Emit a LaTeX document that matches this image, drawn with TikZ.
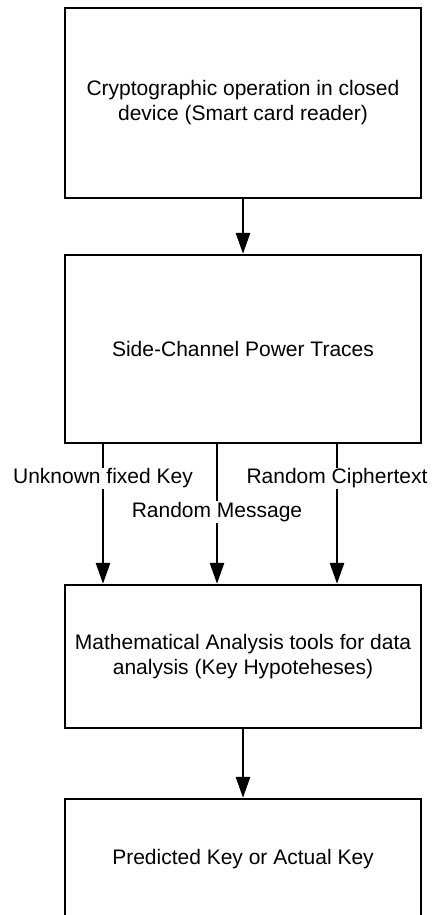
\documentclass[tikz,border=0pt]{standalone}
\usepackage{fontspec}
\setmainfont{Liberation Sans}
\usepackage{xcolor}
\usetikzlibrary{arrows.meta,positioning}
\tikzset{
  box/.style={
    draw=black,fill=white,line width=2.3pt,
    minimum width=356pt,align=center,
    font=\fontsize{21}{25}\selectfont
  },
  arrow/.style={-{Triangle[length=21pt,width=14pt]},draw=black,line width=2.6pt},
  edgelabel/.style={fill=white,inner sep=1pt,font=\fontsize{21}{25}\selectfont}
}
\begin{document}
\begin{tikzpicture}[x=1pt,y=1pt,node distance=54.7pt]
\useasboundingbox (0,0) rectangle (432,-915);
\node[box,minimum height=190pt] (crypto) at (243,-103)
{Cryptographic operation in closed\\device (Smart card reader)};
\node[box,minimum height=188pt,below=of crypto] (traces)
{Side-Channel Power Traces};
\node[box,minimum height=143pt,below=139.7pt of traces] (analysis)
{Mathematical Analysis tools for data\\analysis (Key Hypoteheses)};
\node[box,minimum height=120pt,below=68.7pt of analysis] (keyout)
{Predicted Key or Actual Key};

\draw[arrow] (crypto)--(traces);
\draw[arrow] ([xshift=-140pt]traces.south)--([xshift=-140pt]analysis.north)
  node[edgelabel,pos=.246] {Unknown fixed Key};
\draw[arrow] ([xshift=-26pt]traces.south)--([xshift=-26pt]analysis.north)
  node[edgelabel,pos=.486] {Random Message};
\draw[arrow] ([xshift=94pt]traces.south)--([xshift=94pt]analysis.north)
  node[edgelabel,pos=.246] {Random Ciphertext};
\draw[arrow] (analysis)--(keyout);
\end{tikzpicture}
\end{document}
